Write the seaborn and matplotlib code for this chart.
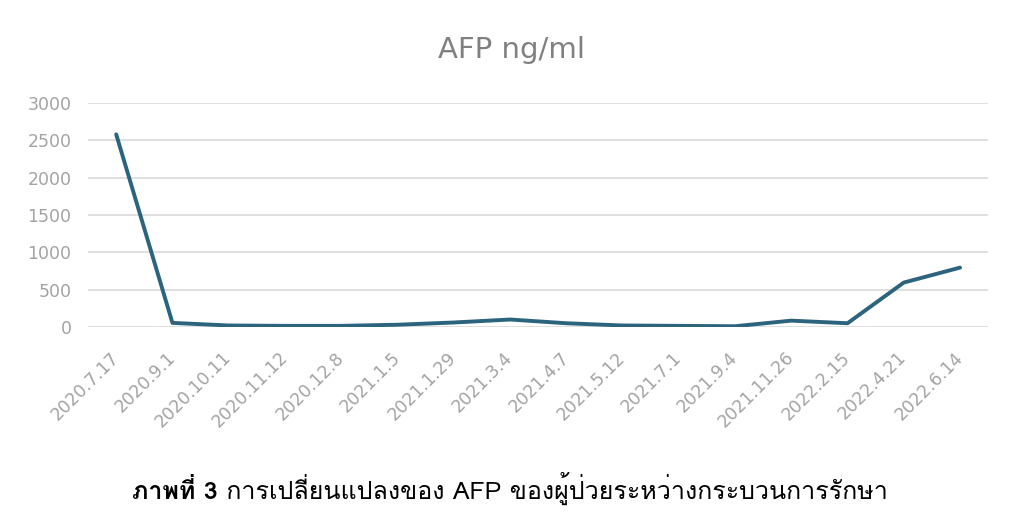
import matplotlib
matplotlib.use("Agg")
import matplotlib.pyplot as plt
from matplotlib import font_manager
from matplotlib.ft2font import FT2Font
import seaborn as sns
import pandas as pd

dates = ["2020.7.17", "2020.9.1", "2020.10.11", "2020.11.12", "2020.12.8",
         "2021.1.5", "2021.1.29", "2021.3.4", "2021.4.7", "2021.5.12",
         "2021.7.1", "2021.9.4", "2021.11.26", "2022.2.15", "2022.4.21",
         "2022.6.14"]
afp = [2580, 55, 20, 15, 15, 30, 60, 100, 50, 20, 15, 10, 85, 50, 595, 795]
y_ticks = [0, 500, 1000, 1500, 2000, 2500, 3000]
title = "AFP ng/ml"
caption_bold = "ภาพที่ 3"
caption_rest = " การเปลี่ยนแปลงของ AFP ของผู้ป่วยระหว่างกระบวนการรักษา"

# find a font that has Thai glyphs
thai_family = None
for fe in font_manager.fontManager.ttflist:
    try:
        cm = FT2Font(fe.fname).get_charmap()
        if 0x0E01 in cm and 0x0E29 in cm:
            thai_family = fe.name
            break
    except Exception:
        pass
thai_fams = ([thai_family] if thai_family else []) + ["DejaVu Sans"]

df = pd.DataFrame({"date": dates, "afp": afp})

sns.set_theme(style="white")
plt.rcParams["font.family"] = ["DejaVu Sans"]

fig = plt.figure(figsize=(10.24, 5.22), dpi=100)
ax = fig.add_axes([0.086, 0.3736, 0.879, 0.4291])

sns.lineplot(data=df, x="date", y="afp", sort=False, ax=ax,
             color="#2c637d", linewidth=2.8, solid_joinstyle="round",
             solid_capstyle="round")

ax.set_xlim(-0.5, len(dates) - 0.5)
ax.set_ylim(0, 3000)
ax.set_yticks(y_ticks)
ax.set_yticklabels([str(v) for v in y_ticks])
ax.set_xlabel("")
ax.set_ylabel("")
for s in ax.spines.values():
    s.set_visible(False)
ax.yaxis.grid(True, color="#d9d9d9", linewidth=1.2)
ax.set_axisbelow(True)
ax.tick_params(axis="both", length=0, colors="#a3a3a3")
ax.tick_params(axis="y", labelsize=12.5, pad=12)
ax.tick_params(axis="x", labelsize=12.5, pad=20)
for lbl in ax.get_xticklabels():
    lbl.set_rotation(45)
    lbl.set_ha("right")
    lbl.set_va("center")
    lbl.set_rotation_mode("anchor")

fig.text(0.5, 0.905, title, ha="center", va="center", fontsize=21,
         color="#808080")

t1 = fig.text(0.125, 0.045, caption_bold, ha="left", va="baseline",
              fontsize=18, fontweight="bold", color="black", family=thai_fams)
t2 = fig.text(0.2, 0.045, caption_rest, ha="left", va="baseline",
              fontsize=18, color="black", family=thai_fams)
fig.canvas.draw()
r = fig.canvas.get_renderer()
w1 = t1.get_window_extent(r).width / fig.bbox.width
w2 = t2.get_window_extent(r).width / fig.bbox.width
x0 = 0.498 - (w1 + w2) / 2
t1.set_x(x0)
t2.set_x(x0 + w1)

fig.savefig("out.png", dpi=100)
